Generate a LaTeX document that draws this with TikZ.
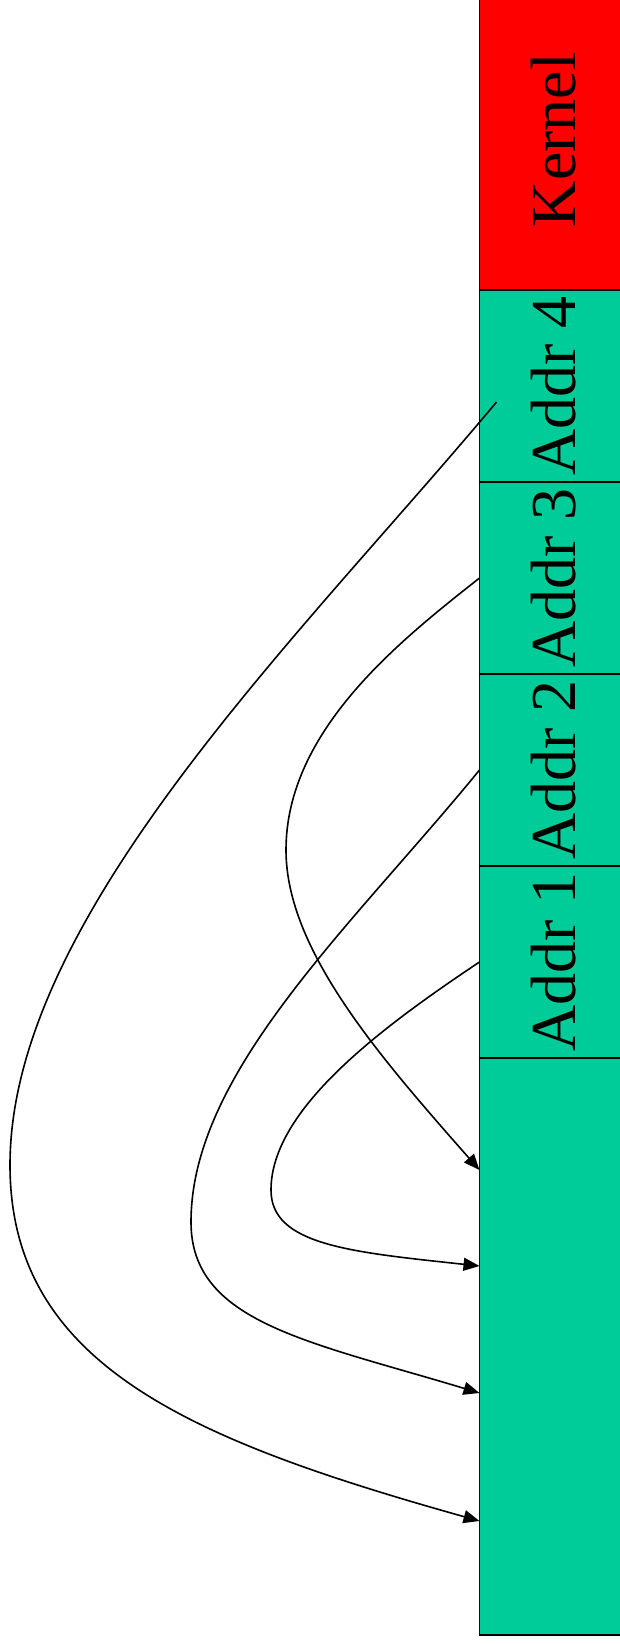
\documentclass[tikz,border=0pt]{standalone}
\usepackage{fontspec}
\setmainfont{Liberation Serif}
\definecolor{kred}{HTML}{FF0000}
\definecolor{ugreen}{HTML}{00CC99}
\usetikzlibrary{calc, positioning, arrows.meta}

\begin{document}
\begin{tikzpicture}[x=1pt, y=-1pt,
  block/.style={draw, line width=1.8pt, minimum width=147.5pt, outer sep=0pt, inner sep=0pt},
  lbl/.style={rotate=90, font=\fontsize{64}{70}\selectfont},
  ptr/.style={line width=1.6pt, -{Triangle[length=16pt, width=13pt]}}]
  \useasboundingbox (0,0) rectangle (619,1644);
  % memory column
  \node[block, fill=kred, minimum height=300pt, anchor=north west] (kernel) at (479.5,-10) {};
  \node[lbl] at (kernel) {Kernel};
  \foreach \n/\prev in {4/kernel, 3/addr4, 2/addr3, 1/addr2} {
    \node[block, fill=ugreen, minimum height=192pt, below=0pt of \prev] (addr\n) {};
    \node[lbl] at (addr\n) {Addr \n};
  }
  \node[block, fill=ugreen, minimum height=577pt, below=0pt of addr1] (free) {};
  % targets
  \coordinate (p3) at ($(free.north west)+(0,112)$);
  \coordinate (p1) at ($(free.north west)+(0,208)$);
  \coordinate (p2) at ($(free.north west)+(0,335)$);
  \coordinate (p4) at ($(free.north west)+(0,463)$);
  % pointers
  \draw[ptr] ($(addr4.west)+(17,16)$) .. controls (304,633) and (10,915) .. (10,1165)
    .. controls (10,1365) and (191,1440) .. (p4);
  \draw[ptr] (addr3.west) .. controls (401,640) and (286,730) .. (286,850)
    .. controls (286,950) and (380,1057) .. (p3);
  \draw[ptr] (addr2.west) .. controls (352,926) and (191,1072) .. (191,1222)
    .. controls (191,1322) and (307,1341) .. (p2);
  \draw[ptr] (addr1.west) .. controls (379,1029) and (271,1110) .. (271,1190)
    .. controls (271,1245) and (350,1252) .. (p1);
\end{tikzpicture}
\end{document}
